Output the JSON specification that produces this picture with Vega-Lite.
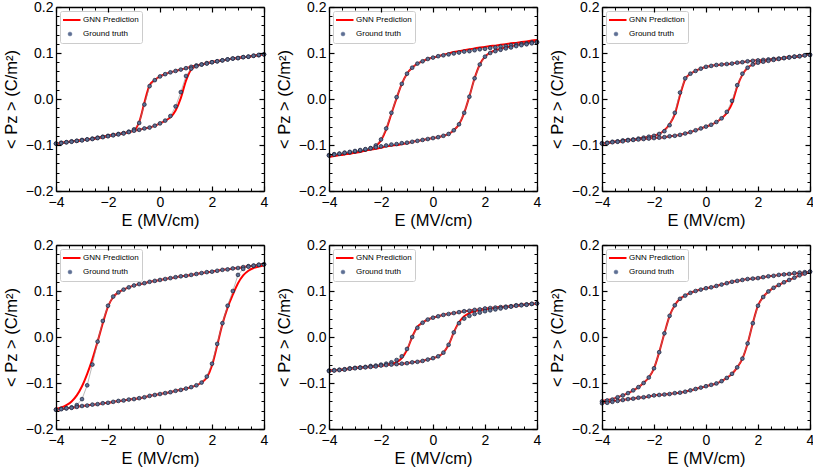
{
"$schema": "https://vega.github.io/schema/vega-lite/v6.json",
"padding": {"left": 3, "top": 0, "right": 2, "bottom": 0},
"background": "white",
"columns": 3,
"spacing": {"row": 54, "column": 65},
"bounds": "flush",
"datasets": {"d": [
{"p":1,"e":-4,"u":-0.097,"l":-0.097,"U":-0.098,"L":-0.098},
{"p":1,"e":-3.8,"u":-0.095,"l":-0.096,"U":-0.095,"L":-0.096},
{"p":1,"e":-3.6,"u":-0.094,"l":-0.094,"U":-0.094,"L":-0.094},
{"p":1,"e":-3.4,"u":-0.092,"l":-0.093,"U":-0.092,"L":-0.093},
{"p":1,"e":-3.2,"u":-0.091,"l":-0.091,"U":-0.091,"L":-0.091},
{"p":1,"e":-3,"u":-0.089,"l":-0.09,"U":-0.089,"L":-0.09},
{"p":1,"e":-2.8,"u":-0.088,"l":-0.088,"U":-0.088,"L":-0.088},
{"p":1,"e":-2.6,"u":-0.086,"l":-0.087,"U":-0.086,"L":-0.087},
{"p":1,"e":-2.4,"u":-0.084,"l":-0.085,"U":-0.084,"L":-0.085},
{"p":1,"e":-2.2,"u":-0.082,"l":-0.083,"U":-0.082,"L":-0.083},
{"p":1,"e":-2,"u":-0.08,"l":-0.081,"U":-0.08,"L":-0.081},
{"p":1,"e":-1.8,"u":-0.078,"l":-0.079,"U":-0.078,"L":-0.079},
{"p":1,"e":-1.6,"u":-0.076,"l":-0.077,"U":-0.076,"L":-0.077},
{"p":1,"e":-1.4,"u":-0.074,"l":-0.075,"U":-0.074,"L":-0.075},
{"p":1,"e":-1.2,"u":-0.071,"l":-0.072,"U":-0.072,"L":-0.072},
{"p":1,"e":-1,"u":-0.066,"l":-0.069,"U":-0.068,"L":-0.069},
{"p":1,"e":-0.8,"u":-0.052,"l":-0.067,"U":-0.05,"L":-0.067},
{"p":1,"e":-0.6,"u":-0.012,"l":-0.064,"U":-0.008,"L":-0.064},
{"p":1,"e":-0.4,"u":0.028,"l":-0.062,"U":0.03,"L":-0.062},
{"p":1,"e":-0.2,"u":0.041,"l":-0.058,"U":0.041,"L":-0.058},
{"p":1,"e":0,"u":0.049,"l":-0.053,"U":0.049,"L":-0.053},
{"p":1,"e":0.2,"u":0.054,"l":-0.047,"U":0.054,"L":-0.047},
{"p":1,"e":0.4,"u":0.058,"l":-0.037,"U":0.058,"L":-0.04},
{"p":1,"e":0.6,"u":0.061,"l":-0.016,"U":0.061,"L":-0.025},
{"p":1,"e":0.8,"u":0.064,"l":0.015,"U":0.064,"L":0.002},
{"p":1,"e":1,"u":0.067,"l":0.05,"U":0.067,"L":0.04},
{"p":1,"e":1.2,"u":0.07,"l":0.066,"U":0.07,"L":0.064},
{"p":1,"e":1.4,"u":0.073,"l":0.071,"U":0.073,"L":0.071},
{"p":1,"e":1.6,"u":0.075,"l":0.075,"U":0.075,"L":0.075},
{"p":1,"e":1.8,"u":0.078,"l":0.077,"U":0.078,"L":0.077},
{"p":1,"e":2,"u":0.08,"l":0.08,"U":0.08,"L":0.08},
{"p":1,"e":2.2,"u":0.082,"l":0.082,"U":0.082,"L":0.082},
{"p":1,"e":2.4,"u":0.084,"l":0.084,"U":0.084,"L":0.084},
{"p":1,"e":2.6,"u":0.086,"l":0.086,"U":0.086,"L":0.086},
{"p":1,"e":2.8,"u":0.088,"l":0.088,"U":0.088,"L":0.088},
{"p":1,"e":3,"u":0.089,"l":0.089,"U":0.089,"L":0.089},
{"p":1,"e":3.2,"u":0.091,"l":0.091,"U":0.091,"L":0.091},
{"p":1,"e":3.4,"u":0.092,"l":0.092,"U":0.092,"L":0.092},
{"p":1,"e":3.6,"u":0.094,"l":0.094,"U":0.094,"L":0.094},
{"p":1,"e":3.8,"u":0.095,"l":0.096,"U":0.095,"L":0.096},
{"p":1,"e":4,"u":0.097,"l":0.097,"U":0.097,"L":0.097},

{"p":2,"e":-4,"u":-0.122,"l":-0.123,"U":-0.125,"L":-0.126},
{"p":2,"e":-3.8,"u":-0.12,"l":-0.121,"U":-0.123,"L":-0.124},
{"p":2,"e":-3.6,"u":-0.119,"l":-0.119,"U":-0.122,"L":-0.122},
{"p":2,"e":-3.4,"u":-0.117,"l":-0.117,"U":-0.12,"L":-0.12},
{"p":2,"e":-3.2,"u":-0.116,"l":-0.115,"U":-0.119,"L":-0.118},
{"p":2,"e":-3,"u":-0.114,"l":-0.113,"U":-0.117,"L":-0.116},
{"p":2,"e":-2.8,"u":-0.112,"l":-0.111,"U":-0.115,"L":-0.114},
{"p":2,"e":-2.6,"u":-0.11,"l":-0.109,"U":-0.112,"L":-0.112},
{"p":2,"e":-2.4,"u":-0.107,"l":-0.107,"U":-0.109,"L":-0.11},
{"p":2,"e":-2.2,"u":-0.101,"l":-0.105,"U":-0.102,"L":-0.108},
{"p":2,"e":-2,"u":-0.088,"l":-0.103,"U":-0.09,"L":-0.106},
{"p":2,"e":-1.8,"u":-0.064,"l":-0.101,"U":-0.066,"L":-0.103},
{"p":2,"e":-1.6,"u":-0.03,"l":-0.099,"U":-0.032,"L":-0.101},
{"p":2,"e":-1.4,"u":0.004,"l":-0.098,"U":0.002,"L":-0.1},
{"p":2,"e":-1.2,"u":0.033,"l":-0.096,"U":0.033,"L":-0.098},
{"p":2,"e":-1,"u":0.055,"l":-0.095,"U":0.055,"L":-0.096},
{"p":2,"e":-0.8,"u":0.068,"l":-0.093,"U":0.068,"L":-0.093},
{"p":2,"e":-0.6,"u":0.077,"l":-0.091,"U":0.077,"L":-0.091},
{"p":2,"e":-0.4,"u":0.082,"l":-0.089,"U":0.082,"L":-0.089},
{"p":2,"e":-0.2,"u":0.087,"l":-0.087,"U":0.087,"L":-0.087},
{"p":2,"e":0,"u":0.09,"l":-0.085,"U":0.09,"L":-0.085},
{"p":2,"e":0.2,"u":0.093,"l":-0.083,"U":0.093,"L":-0.083},
{"p":2,"e":0.4,"u":0.095,"l":-0.08,"U":0.096,"L":-0.08},
{"p":2,"e":0.6,"u":0.097,"l":-0.076,"U":0.099,"L":-0.076},
{"p":2,"e":0.8,"u":0.099,"l":-0.068,"U":0.102,"L":-0.068},
{"p":2,"e":1,"u":0.101,"l":-0.055,"U":0.104,"L":-0.055},
{"p":2,"e":1.2,"u":0.103,"l":-0.03,"U":0.106,"L":-0.03},
{"p":2,"e":1.4,"u":0.104,"l":0.005,"U":0.108,"L":0.006},
{"p":2,"e":1.6,"u":0.106,"l":0.045,"U":0.11,"L":0.045},
{"p":2,"e":1.8,"u":0.108,"l":0.075,"U":0.112,"L":0.075},
{"p":2,"e":2,"u":0.109,"l":0.092,"U":0.113,"L":0.092},
{"p":2,"e":2.2,"u":0.111,"l":0.1,"U":0.115,"L":0.101},
{"p":2,"e":2.4,"u":0.112,"l":0.104,"U":0.116,"L":0.106},
{"p":2,"e":2.6,"u":0.114,"l":0.107,"U":0.118,"L":0.109},
{"p":2,"e":2.8,"u":0.115,"l":0.11,"U":0.119,"L":0.112},
{"p":2,"e":3,"u":0.117,"l":0.112,"U":0.121,"L":0.114},
{"p":2,"e":3.2,"u":0.118,"l":0.115,"U":0.122,"L":0.117},
{"p":2,"e":3.4,"u":0.12,"l":0.117,"U":0.124,"L":0.119},
{"p":2,"e":3.6,"u":0.121,"l":0.119,"U":0.125,"L":0.121},
{"p":2,"e":3.8,"u":0.123,"l":0.121,"U":0.127,"L":0.123},
{"p":2,"e":4,"u":0.124,"l":0.123,"U":0.128,"L":0.125},

{"p":3,"e":-4,"u":-0.096,"l":-0.097,"U":-0.096,"L":-0.097},
{"p":3,"e":-3.8,"u":-0.095,"l":-0.096,"U":-0.095,"L":-0.096},
{"p":3,"e":-3.6,"u":-0.093,"l":-0.094,"U":-0.093,"L":-0.094},
{"p":3,"e":-3.4,"u":-0.092,"l":-0.093,"U":-0.092,"L":-0.093},
{"p":3,"e":-3.2,"u":-0.09,"l":-0.092,"U":-0.09,"L":-0.092},
{"p":3,"e":-3,"u":-0.089,"l":-0.09,"U":-0.089,"L":-0.09},
{"p":3,"e":-2.8,"u":-0.088,"l":-0.089,"U":-0.088,"L":-0.089},
{"p":3,"e":-2.6,"u":-0.086,"l":-0.088,"U":-0.086,"L":-0.088},
{"p":3,"e":-2.4,"u":-0.084,"l":-0.087,"U":-0.084,"L":-0.087},
{"p":3,"e":-2.2,"u":-0.082,"l":-0.086,"U":-0.082,"L":-0.086},
{"p":3,"e":-2,"u":-0.08,"l":-0.085,"U":-0.08,"L":-0.085},
{"p":3,"e":-1.8,"u":-0.076,"l":-0.084,"U":-0.076,"L":-0.084},
{"p":3,"e":-1.6,"u":-0.07,"l":-0.083,"U":-0.068,"L":-0.083},
{"p":3,"e":-1.4,"u":-0.057,"l":-0.081,"U":-0.055,"L":-0.081},
{"p":3,"e":-1.2,"u":-0.03,"l":-0.08,"U":-0.033,"L":-0.08},
{"p":3,"e":-1,"u":0.014,"l":-0.078,"U":0.008,"L":-0.078},
{"p":3,"e":-0.8,"u":0.045,"l":-0.075,"U":0.043,"L":-0.075},
{"p":3,"e":-0.6,"u":0.055,"l":-0.072,"U":0.055,"L":-0.072},
{"p":3,"e":-0.4,"u":0.061,"l":-0.068,"U":0.061,"L":-0.068},
{"p":3,"e":-0.2,"u":0.066,"l":-0.064,"U":0.066,"L":-0.064},
{"p":3,"e":0,"u":0.07,"l":-0.06,"U":0.07,"L":-0.06},
{"p":3,"e":0.2,"u":0.072,"l":-0.056,"U":0.072,"L":-0.056},
{"p":3,"e":0.4,"u":0.074,"l":-0.05,"U":0.074,"L":-0.05},
{"p":3,"e":0.6,"u":0.075,"l":-0.042,"U":0.075,"L":-0.042},
{"p":3,"e":0.8,"u":0.076,"l":-0.028,"U":0.076,"L":-0.03},
{"p":3,"e":1,"u":0.077,"l":-0.004,"U":0.077,"L":-0.01},
{"p":3,"e":1.2,"u":0.079,"l":0.03,"U":0.079,"L":0.027},
{"p":3,"e":1.4,"u":0.08,"l":0.055,"U":0.08,"L":0.053},
{"p":3,"e":1.6,"u":0.082,"l":0.068,"U":0.082,"L":0.068},
{"p":3,"e":1.8,"u":0.083,"l":0.075,"U":0.083,"L":0.075},
{"p":3,"e":2,"u":0.084,"l":0.079,"U":0.084,"L":0.079},
{"p":3,"e":2.2,"u":0.085,"l":0.081,"U":0.085,"L":0.081},
{"p":3,"e":2.4,"u":0.086,"l":0.083,"U":0.086,"L":0.083},
{"p":3,"e":2.6,"u":0.087,"l":0.085,"U":0.087,"L":0.085},
{"p":3,"e":2.8,"u":0.088,"l":0.087,"U":0.088,"L":0.087},
{"p":3,"e":3,"u":0.089,"l":0.089,"U":0.089,"L":0.089},
{"p":3,"e":3.2,"u":0.091,"l":0.09,"U":0.091,"L":0.09},
{"p":3,"e":3.4,"u":0.092,"l":0.092,"U":0.092,"L":0.092},
{"p":3,"e":3.6,"u":0.093,"l":0.093,"U":0.093,"L":0.093},
{"p":3,"e":3.8,"u":0.095,"l":0.095,"U":0.095,"L":0.095},
{"p":3,"e":4,"u":0.096,"l":0.096,"U":0.096,"L":0.096},

{"p":4,"e":-4,"u":-0.158,"l":-0.158,"U":-0.156,"L":-0.158},
{"p":4,"e":-3.8,"u":-0.156,"l":-0.157,"U":-0.153,"L":-0.157},
{"p":4,"e":-3.6,"u":-0.155,"l":-0.155,"U":-0.148,"L":-0.155},
{"p":4,"e":-3.4,"u":-0.153,"l":-0.154,"U":-0.14,"L":-0.154},
{"p":4,"e":-3.2,"u":-0.148,"l":-0.152,"U":-0.127,"L":-0.152},
{"p":4,"e":-3,"u":-0.135,"l":-0.15,"U":-0.107,"L":-0.15},
{"p":4,"e":-2.8,"u":-0.105,"l":-0.149,"U":-0.08,"L":-0.149},
{"p":4,"e":-2.6,"u":-0.06,"l":-0.147,"U":-0.048,"L":-0.147},
{"p":4,"e":-2.4,"u":-0.01,"l":-0.146,"U":-0.01,"L":-0.146},
{"p":4,"e":-2.2,"u":0.035,"l":-0.144,"U":0.03,"L":-0.144},
{"p":4,"e":-2,"u":0.068,"l":-0.143,"U":0.066,"L":-0.143},
{"p":4,"e":-1.8,"u":0.088,"l":-0.141,"U":0.087,"L":-0.141},
{"p":4,"e":-1.6,"u":0.097,"l":-0.139,"U":0.097,"L":-0.139},
{"p":4,"e":-1.4,"u":0.103,"l":-0.138,"U":0.103,"L":-0.138},
{"p":4,"e":-1.2,"u":0.108,"l":-0.136,"U":0.108,"L":-0.136},
{"p":4,"e":-1,"u":0.112,"l":-0.135,"U":0.112,"L":-0.135},
{"p":4,"e":-0.8,"u":0.115,"l":-0.133,"U":0.115,"L":-0.133},
{"p":4,"e":-0.6,"u":0.117,"l":-0.131,"U":0.117,"L":-0.131},
{"p":4,"e":-0.4,"u":0.12,"l":-0.128,"U":0.12,"L":-0.128},
{"p":4,"e":-0.2,"u":0.122,"l":-0.126,"U":0.122,"L":-0.126},
{"p":4,"e":0,"u":0.124,"l":-0.124,"U":0.124,"L":-0.124},
{"p":4,"e":0.2,"u":0.126,"l":-0.122,"U":0.126,"L":-0.122},
{"p":4,"e":0.4,"u":0.128,"l":-0.12,"U":0.128,"L":-0.12},
{"p":4,"e":0.6,"u":0.13,"l":-0.117,"U":0.13,"L":-0.117},
{"p":4,"e":0.8,"u":0.132,"l":-0.115,"U":0.132,"L":-0.115},
{"p":4,"e":1,"u":0.133,"l":-0.112,"U":0.133,"L":-0.112},
{"p":4,"e":1.2,"u":0.135,"l":-0.109,"U":0.135,"L":-0.109},
{"p":4,"e":1.4,"u":0.137,"l":-0.105,"U":0.137,"L":-0.105},
{"p":4,"e":1.6,"u":0.139,"l":-0.099,"U":0.139,"L":-0.099},
{"p":4,"e":1.8,"u":0.141,"l":-0.086,"U":0.141,"L":-0.088},
{"p":4,"e":2,"u":0.142,"l":-0.058,"U":0.142,"L":-0.062},
{"p":4,"e":2.2,"u":0.144,"l":-0.015,"U":0.144,"L":-0.018},
{"p":4,"e":2.4,"u":0.146,"l":0.03,"U":0.146,"L":0.028},
{"p":4,"e":2.6,"u":0.147,"l":0.068,"U":0.147,"L":0.064},
{"p":4,"e":2.8,"u":0.149,"l":0.1,"U":0.149,"L":0.092},
{"p":4,"e":3,"u":0.15,"l":0.135,"U":0.15,"L":0.117},
{"p":4,"e":3.2,"u":0.152,"l":0.148,"U":0.152,"L":0.134},
{"p":4,"e":3.4,"u":0.154,"l":0.153,"U":0.154,"L":0.144},
{"p":4,"e":3.6,"u":0.155,"l":0.155,"U":0.155,"L":0.15},
{"p":4,"e":3.8,"u":0.157,"l":0.157,"U":0.157,"L":0.153},
{"p":4,"e":4,"u":0.158,"l":0.158,"U":0.158,"L":0.156},

{"p":5,"e":-4,"u":-0.073,"l":-0.074,"U":-0.073,"L":-0.074},
{"p":5,"e":-3.8,"u":-0.072,"l":-0.073,"U":-0.072,"L":-0.073},
{"p":5,"e":-3.6,"u":-0.071,"l":-0.072,"U":-0.071,"L":-0.072},
{"p":5,"e":-3.4,"u":-0.07,"l":-0.071,"U":-0.07,"L":-0.071},
{"p":5,"e":-3.2,"u":-0.068,"l":-0.069,"U":-0.068,"L":-0.069},
{"p":5,"e":-3,"u":-0.067,"l":-0.068,"U":-0.067,"L":-0.068},
{"p":5,"e":-2.8,"u":-0.066,"l":-0.067,"U":-0.066,"L":-0.067},
{"p":5,"e":-2.6,"u":-0.065,"l":-0.066,"U":-0.065,"L":-0.066},
{"p":5,"e":-2.4,"u":-0.063,"l":-0.065,"U":-0.064,"L":-0.065},
{"p":5,"e":-2.2,"u":-0.062,"l":-0.064,"U":-0.063,"L":-0.064},
{"p":5,"e":-2,"u":-0.06,"l":-0.062,"U":-0.062,"L":-0.062},
{"p":5,"e":-1.8,"u":-0.058,"l":-0.061,"U":-0.06,"L":-0.061},
{"p":5,"e":-1.6,"u":-0.055,"l":-0.06,"U":-0.058,"L":-0.06},
{"p":5,"e":-1.4,"u":-0.05,"l":-0.059,"U":-0.055,"L":-0.059},
{"p":5,"e":-1.2,"u":-0.042,"l":-0.058,"U":-0.046,"L":-0.058},
{"p":5,"e":-1,"u":-0.026,"l":-0.057,"U":-0.028,"L":-0.057},
{"p":5,"e":-0.8,"u":0.0,"l":-0.055,"U":0.0,"L":-0.055},
{"p":5,"e":-0.6,"u":0.02,"l":-0.054,"U":0.022,"L":-0.054},
{"p":5,"e":-0.4,"u":0.031,"l":-0.052,"U":0.031,"L":-0.052},
{"p":5,"e":-0.2,"u":0.038,"l":-0.049,"U":0.038,"L":-0.049},
{"p":5,"e":0,"u":0.042,"l":-0.046,"U":0.042,"L":-0.046},
{"p":5,"e":0.2,"u":0.045,"l":-0.042,"U":0.045,"L":-0.042},
{"p":5,"e":0.4,"u":0.048,"l":-0.034,"U":0.048,"L":-0.034},
{"p":5,"e":0.6,"u":0.05,"l":-0.017,"U":0.05,"L":-0.017},
{"p":5,"e":0.8,"u":0.052,"l":0.01,"U":0.052,"L":0.01},
{"p":5,"e":1,"u":0.054,"l":0.03,"U":0.054,"L":0.032},
{"p":5,"e":1.2,"u":0.056,"l":0.04,"U":0.056,"L":0.045},
{"p":5,"e":1.4,"u":0.057,"l":0.046,"U":0.057,"L":0.052},
{"p":5,"e":1.6,"u":0.059,"l":0.05,"U":0.059,"L":0.056},
{"p":5,"e":1.8,"u":0.06,"l":0.053,"U":0.06,"L":0.058},
{"p":5,"e":2,"u":0.062,"l":0.056,"U":0.062,"L":0.06},
{"p":5,"e":2.2,"u":0.063,"l":0.058,"U":0.063,"L":0.062},
{"p":5,"e":2.4,"u":0.064,"l":0.06,"U":0.064,"L":0.063},
{"p":5,"e":2.6,"u":0.065,"l":0.062,"U":0.065,"L":0.064},
{"p":5,"e":2.8,"u":0.066,"l":0.064,"U":0.066,"L":0.065},
{"p":5,"e":3,"u":0.067,"l":0.066,"U":0.067,"L":0.066},
{"p":5,"e":3.2,"u":0.069,"l":0.068,"U":0.069,"L":0.068},
{"p":5,"e":3.4,"u":0.07,"l":0.069,"U":0.07,"L":0.069},
{"p":5,"e":3.6,"u":0.071,"l":0.07,"U":0.071,"L":0.07},
{"p":5,"e":3.8,"u":0.072,"l":0.072,"U":0.072,"L":0.072},
{"p":5,"e":4,"u":0.073,"l":0.073,"U":0.073,"L":0.073},

{"p":6,"e":-4,"u":-0.14,"l":-0.144,"U":-0.139,"L":-0.143},
{"p":6,"e":-3.8,"u":-0.138,"l":-0.143,"U":-0.137,"L":-0.142},
{"p":6,"e":-3.6,"u":-0.136,"l":-0.141,"U":-0.135,"L":-0.14},
{"p":6,"e":-3.4,"u":-0.131,"l":-0.139,"U":-0.131,"L":-0.138},
{"p":6,"e":-3.2,"u":-0.127,"l":-0.137,"U":-0.127,"L":-0.137},
{"p":6,"e":-3,"u":-0.122,"l":-0.135,"U":-0.122,"L":-0.135},
{"p":6,"e":-2.8,"u":-0.116,"l":-0.134,"U":-0.116,"L":-0.134},
{"p":6,"e":-2.6,"u":-0.109,"l":-0.132,"U":-0.109,"L":-0.132},
{"p":6,"e":-2.4,"u":-0.1,"l":-0.131,"U":-0.1,"L":-0.131},
{"p":6,"e":-2.2,"u":-0.088,"l":-0.129,"U":-0.088,"L":-0.129},
{"p":6,"e":-2,"u":-0.068,"l":-0.127,"U":-0.068,"L":-0.127},
{"p":6,"e":-1.8,"u":-0.033,"l":-0.126,"U":-0.033,"L":-0.126},
{"p":6,"e":-1.6,"u":0.008,"l":-0.125,"U":0.008,"L":-0.125},
{"p":6,"e":-1.4,"u":0.046,"l":-0.124,"U":0.046,"L":-0.124},
{"p":6,"e":-1.2,"u":0.069,"l":-0.122,"U":0.069,"L":-0.122},
{"p":6,"e":-1,"u":0.083,"l":-0.121,"U":0.083,"L":-0.121},
{"p":6,"e":-0.8,"u":0.09,"l":-0.119,"U":0.09,"L":-0.119},
{"p":6,"e":-0.6,"u":0.096,"l":-0.116,"U":0.096,"L":-0.116},
{"p":6,"e":-0.4,"u":0.1,"l":-0.113,"U":0.1,"L":-0.113},
{"p":6,"e":-0.2,"u":0.103,"l":-0.11,"U":0.103,"L":-0.11},
{"p":6,"e":0,"u":0.106,"l":-0.107,"U":0.106,"L":-0.107},
{"p":6,"e":0.2,"u":0.108,"l":-0.104,"U":0.108,"L":-0.104},
{"p":6,"e":0.4,"u":0.111,"l":-0.101,"U":0.111,"L":-0.101},
{"p":6,"e":0.6,"u":0.114,"l":-0.096,"U":0.114,"L":-0.096},
{"p":6,"e":0.8,"u":0.117,"l":-0.089,"U":0.117,"L":-0.089},
{"p":6,"e":1,"u":0.12,"l":-0.08,"U":0.12,"L":-0.08},
{"p":6,"e":1.2,"u":0.122,"l":-0.066,"U":0.122,"L":-0.066},
{"p":6,"e":1.4,"u":0.124,"l":-0.047,"U":0.124,"L":-0.047},
{"p":6,"e":1.6,"u":0.126,"l":-0.014,"U":0.126,"L":-0.014},
{"p":6,"e":1.8,"u":0.127,"l":0.03,"U":0.127,"L":0.03},
{"p":6,"e":2,"u":0.128,"l":0.068,"U":0.128,"L":0.068},
{"p":6,"e":2.2,"u":0.13,"l":0.087,"U":0.13,"L":0.087},
{"p":6,"e":2.4,"u":0.132,"l":0.099,"U":0.132,"L":0.099},
{"p":6,"e":2.6,"u":0.133,"l":0.107,"U":0.133,"L":0.107},
{"p":6,"e":2.8,"u":0.135,"l":0.113,"U":0.135,"L":0.113},
{"p":6,"e":3,"u":0.136,"l":0.119,"U":0.136,"L":0.119},
{"p":6,"e":3.2,"u":0.137,"l":0.124,"U":0.137,"L":0.124},
{"p":6,"e":3.4,"u":0.139,"l":0.129,"U":0.138,"L":0.129},
{"p":6,"e":3.6,"u":0.14,"l":0.134,"U":0.139,"L":0.134},
{"p":6,"e":3.8,"u":0.141,"l":0.138,"U":0.14,"L":0.137},
{"p":6,"e":4,"u":0.142,"l":0.142,"U":0.141,"L":0.141}
]},
"concat": [
{"width":208,"height":184,"data":{"name":"d"},"transform":[{"filter":"datum.p==1"}],
"layer":[
{"transform":[{"fold":["U","L"],"as":["br","P"]}],"mark":{"type":"line","strokeWidth":2,"interpolate":"monotone"},
"encoding":{"x":{"field":"e","type":"quantitative","scale":{"domain":[-4,4],"nice":false,"zero":false},"axis":{"orient":"bottom","values":[-4,-2,0,2,4],"format":"d","tickSize":-5,"tickWidth":1.2,"labelPadding":9,"title":"E (MV/cm)","titlePadding":3,"domainWidth":1.3,"zindex":1}},
"y":{"field":"P","type":"quantitative","scale":{"domain":[-0.2,0.2],"nice":false,"zero":false},"axis":{"orient":"left","values":[-0.2,-0.1,0,0.1,0.2],"format":".1f","tickSize":-5,"tickWidth":1.2,"labelPadding":8,"title":"< Pz > (C/m²)","titlePadding":6,"domainWidth":1.3,"zindex":1}},
"detail":{"field":"br"},
"color":{"datum":"GNN Prediction","scale":{"domain":["GNN Prediction","Ground truth"],"range":["#ff0000","#5d6f94"]},"legend":{"orient":"top-left","offset":4,"title":null,"padding":3,"fillColor":"#ffffff","strokeColor":"#cccccc","cornerRadius":2,"labelFont":"Liberation Sans","labelFontSize":8,"labelColor":"black","symbolType":"stroke","symbolSize":441,"symbolStrokeWidth":2,"symbolOffset":3,"clipHeight":12,"rowPadding":2,"labelOffset":9,"encode":{"symbols":{"update":{"shape":{"signal":"datum.value === 'Ground truth' ? 'circle' : 'stroke'"},"size":{"signal":"datum.value === 'Ground truth' ? 14 : 441"},"fill":{"signal":"datum.value === 'Ground truth' ? '#5d6f94' : 'transparent'"},"stroke":{"signal":"datum.value === 'Ground truth' ? '#1b2036' : '#ff0000'"},"strokeWidth":{"signal":"datum.value === 'Ground truth' ? 0.7 : 2"}}}}}}}},
{"transform":[{"fold":["u","l"],"as":["br","P"]}],"mark":{"type":"line","strokeWidth":0.6,"color":"#8a8a8a"},
"encoding":{"x":{"field":"e","type":"quantitative","axis":{"orient":"top","values":[-4,-2,0,2,4],"tickSize":-5,"tickWidth":1.2,"labels":false,"title":null,"domainWidth":1.3,"zindex":1}},
"y":{"field":"P","type":"quantitative","axis":{"orient":"right","values":[-0.2,-0.1,0,0.1,0.2],"tickSize":-5,"tickWidth":1.2,"labels":false,"title":null,"domainWidth":1.3,"zindex":1}},"detail":{"field":"br"}}},
{"transform":[{"fold":["u","l"],"as":["br","P"]}],"mark":{"type":"point","filled":true,"fill":"#5d6f94","stroke":"#1b2036","strokeWidth":0.7,"size":14,"opacity":1},
"encoding":{"x":{"field":"e","type":"quantitative","axis":{"orient":"bottom","values":[-3.5,-3,-2.5,-1.5,-1,-0.5,0.5,1,1.5,2.5,3,3.5],"tickSize":-3,"tickWidth":1,"labels":false,"domain":false,"title":null,"zindex":1}},
"y":{"field":"P","type":"quantitative","axis":{"orient":"left","values":[-0.18,-0.16,-0.14,-0.12,-0.08,-0.06,-0.04,-0.02,0.02,0.04,0.06,0.08,0.12,0.14,0.16,0.18],"tickSize":-3,"tickWidth":1,"labels":false,"domain":false,"title":null,"zindex":1}}}},
{"mark":{"type":"point","opacity":0},
"encoding":{"x":{"datum":0,"type":"quantitative","axis":{"orient":"top","values":[-3.5,-3,-2.5,-1.5,-1,-0.5,0.5,1,1.5,2.5,3,3.5],"tickSize":-3,"tickWidth":1,"labels":false,"domain":false,"title":null,"zindex":1}},
"y":{"datum":0,"type":"quantitative","axis":{"orient":"right","values":[-0.18,-0.16,-0.14,-0.12,-0.08,-0.06,-0.04,-0.02,0.02,0.04,0.06,0.08,0.12,0.14,0.16,0.18],"tickSize":-3,"tickWidth":1,"labels":false,"domain":false,"title":null,"zindex":1}}}}
],
"resolve":{"axis":{"x":"independent","y":"independent"}}},

{"width":208,"height":184,"data":{"name":"d"},"transform":[{"filter":"datum.p==2"}],
"layer":[
{"transform":[{"fold":["U","L"],"as":["br","P"]}],"mark":{"type":"line","strokeWidth":2,"interpolate":"monotone"},
"encoding":{"x":{"field":"e","type":"quantitative","scale":{"domain":[-4,4],"nice":false,"zero":false},"axis":{"orient":"bottom","values":[-4,-2,0,2,4],"format":"d","tickSize":-5,"tickWidth":1.2,"labelPadding":9,"title":"E (MV/cm)","titlePadding":3,"domainWidth":1.3,"zindex":1}},
"y":{"field":"P","type":"quantitative","scale":{"domain":[-0.2,0.2],"nice":false,"zero":false},"axis":{"orient":"left","values":[-0.2,-0.1,0,0.1,0.2],"format":".1f","tickSize":-5,"tickWidth":1.2,"labelPadding":8,"title":"< Pz > (C/m²)","titlePadding":6,"domainWidth":1.3,"zindex":1}},
"detail":{"field":"br"},
"color":{"datum":"GNN Prediction","scale":{"domain":["GNN Prediction","Ground truth"],"range":["#ff0000","#5d6f94"]},"legend":{"orient":"top-left","offset":4,"title":null,"padding":3,"fillColor":"#ffffff","strokeColor":"#cccccc","cornerRadius":2,"labelFont":"Liberation Sans","labelFontSize":8,"labelColor":"black","symbolType":"stroke","symbolSize":441,"symbolStrokeWidth":2,"symbolOffset":3,"clipHeight":12,"rowPadding":2,"labelOffset":9,"encode":{"symbols":{"update":{"shape":{"signal":"datum.value === 'Ground truth' ? 'circle' : 'stroke'"},"size":{"signal":"datum.value === 'Ground truth' ? 14 : 441"},"fill":{"signal":"datum.value === 'Ground truth' ? '#5d6f94' : 'transparent'"},"stroke":{"signal":"datum.value === 'Ground truth' ? '#1b2036' : '#ff0000'"},"strokeWidth":{"signal":"datum.value === 'Ground truth' ? 0.7 : 2"}}}}}}}},
{"transform":[{"fold":["u","l"],"as":["br","P"]}],"mark":{"type":"line","strokeWidth":0.6,"color":"#8a8a8a"},
"encoding":{"x":{"field":"e","type":"quantitative","axis":{"orient":"top","values":[-4,-2,0,2,4],"tickSize":-5,"tickWidth":1.2,"labels":false,"title":null,"domainWidth":1.3,"zindex":1}},
"y":{"field":"P","type":"quantitative","axis":{"orient":"right","values":[-0.2,-0.1,0,0.1,0.2],"tickSize":-5,"tickWidth":1.2,"labels":false,"title":null,"domainWidth":1.3,"zindex":1}},"detail":{"field":"br"}}},
{"transform":[{"fold":["u","l"],"as":["br","P"]}],"mark":{"type":"point","filled":true,"fill":"#5d6f94","stroke":"#1b2036","strokeWidth":0.7,"size":14,"opacity":1},
"encoding":{"x":{"field":"e","type":"quantitative","axis":{"orient":"bottom","values":[-3.5,-3,-2.5,-1.5,-1,-0.5,0.5,1,1.5,2.5,3,3.5],"tickSize":-3,"tickWidth":1,"labels":false,"domain":false,"title":null,"zindex":1}},
"y":{"field":"P","type":"quantitative","axis":{"orient":"left","values":[-0.18,-0.16,-0.14,-0.12,-0.08,-0.06,-0.04,-0.02,0.02,0.04,0.06,0.08,0.12,0.14,0.16,0.18],"tickSize":-3,"tickWidth":1,"labels":false,"domain":false,"title":null,"zindex":1}}}},
{"mark":{"type":"point","opacity":0},
"encoding":{"x":{"datum":0,"type":"quantitative","axis":{"orient":"top","values":[-3.5,-3,-2.5,-1.5,-1,-0.5,0.5,1,1.5,2.5,3,3.5],"tickSize":-3,"tickWidth":1,"labels":false,"domain":false,"title":null,"zindex":1}},
"y":{"datum":0,"type":"quantitative","axis":{"orient":"right","values":[-0.18,-0.16,-0.14,-0.12,-0.08,-0.06,-0.04,-0.02,0.02,0.04,0.06,0.08,0.12,0.14,0.16,0.18],"tickSize":-3,"tickWidth":1,"labels":false,"domain":false,"title":null,"zindex":1}}}}
],
"resolve":{"axis":{"x":"independent","y":"independent"}}},

{"width":208,"height":184,"data":{"name":"d"},"transform":[{"filter":"datum.p==3"}],
"layer":[
{"transform":[{"fold":["U","L"],"as":["br","P"]}],"mark":{"type":"line","strokeWidth":2,"interpolate":"monotone"},
"encoding":{"x":{"field":"e","type":"quantitative","scale":{"domain":[-4,4],"nice":false,"zero":false},"axis":{"orient":"bottom","values":[-4,-2,0,2,4],"format":"d","tickSize":-5,"tickWidth":1.2,"labelPadding":9,"title":"E (MV/cm)","titlePadding":3,"domainWidth":1.3,"zindex":1}},
"y":{"field":"P","type":"quantitative","scale":{"domain":[-0.2,0.2],"nice":false,"zero":false},"axis":{"orient":"left","values":[-0.2,-0.1,0,0.1,0.2],"format":".1f","tickSize":-5,"tickWidth":1.2,"labelPadding":8,"title":"< Pz > (C/m²)","titlePadding":6,"domainWidth":1.3,"zindex":1}},
"detail":{"field":"br"},
"color":{"datum":"GNN Prediction","scale":{"domain":["GNN Prediction","Ground truth"],"range":["#ff0000","#5d6f94"]},"legend":{"orient":"top-left","offset":4,"title":null,"padding":3,"fillColor":"#ffffff","strokeColor":"#cccccc","cornerRadius":2,"labelFont":"Liberation Sans","labelFontSize":8,"labelColor":"black","symbolType":"stroke","symbolSize":441,"symbolStrokeWidth":2,"symbolOffset":3,"clipHeight":12,"rowPadding":2,"labelOffset":9,"encode":{"symbols":{"update":{"shape":{"signal":"datum.value === 'Ground truth' ? 'circle' : 'stroke'"},"size":{"signal":"datum.value === 'Ground truth' ? 14 : 441"},"fill":{"signal":"datum.value === 'Ground truth' ? '#5d6f94' : 'transparent'"},"stroke":{"signal":"datum.value === 'Ground truth' ? '#1b2036' : '#ff0000'"},"strokeWidth":{"signal":"datum.value === 'Ground truth' ? 0.7 : 2"}}}}}}}},
{"transform":[{"fold":["u","l"],"as":["br","P"]}],"mark":{"type":"line","strokeWidth":0.6,"color":"#8a8a8a"},
"encoding":{"x":{"field":"e","type":"quantitative","axis":{"orient":"top","values":[-4,-2,0,2,4],"tickSize":-5,"tickWidth":1.2,"labels":false,"title":null,"domainWidth":1.3,"zindex":1}},
"y":{"field":"P","type":"quantitative","axis":{"orient":"right","values":[-0.2,-0.1,0,0.1,0.2],"tickSize":-5,"tickWidth":1.2,"labels":false,"title":null,"domainWidth":1.3,"zindex":1}},"detail":{"field":"br"}}},
{"transform":[{"fold":["u","l"],"as":["br","P"]}],"mark":{"type":"point","filled":true,"fill":"#5d6f94","stroke":"#1b2036","strokeWidth":0.7,"size":14,"opacity":1},
"encoding":{"x":{"field":"e","type":"quantitative","axis":{"orient":"bottom","values":[-3.5,-3,-2.5,-1.5,-1,-0.5,0.5,1,1.5,2.5,3,3.5],"tickSize":-3,"tickWidth":1,"labels":false,"domain":false,"title":null,"zindex":1}},
"y":{"field":"P","type":"quantitative","axis":{"orient":"left","values":[-0.18,-0.16,-0.14,-0.12,-0.08,-0.06,-0.04,-0.02,0.02,0.04,0.06,0.08,0.12,0.14,0.16,0.18],"tickSize":-3,"tickWidth":1,"labels":false,"domain":false,"title":null,"zindex":1}}}},
{"mark":{"type":"point","opacity":0},
"encoding":{"x":{"datum":0,"type":"quantitative","axis":{"orient":"top","values":[-3.5,-3,-2.5,-1.5,-1,-0.5,0.5,1,1.5,2.5,3,3.5],"tickSize":-3,"tickWidth":1,"labels":false,"domain":false,"title":null,"zindex":1}},
"y":{"datum":0,"type":"quantitative","axis":{"orient":"right","values":[-0.18,-0.16,-0.14,-0.12,-0.08,-0.06,-0.04,-0.02,0.02,0.04,0.06,0.08,0.12,0.14,0.16,0.18],"tickSize":-3,"tickWidth":1,"labels":false,"domain":false,"title":null,"zindex":1}}}}
],
"resolve":{"axis":{"x":"independent","y":"independent"}}},

{"width":208,"height":184,"data":{"name":"d"},"transform":[{"filter":"datum.p==4"}],
"layer":[
{"transform":[{"fold":["U","L"],"as":["br","P"]}],"mark":{"type":"line","strokeWidth":2,"interpolate":"monotone"},
"encoding":{"x":{"field":"e","type":"quantitative","scale":{"domain":[-4,4],"nice":false,"zero":false},"axis":{"orient":"bottom","values":[-4,-2,0,2,4],"format":"d","tickSize":-5,"tickWidth":1.2,"labelPadding":9,"title":"E (MV/cm)","titlePadding":3,"domainWidth":1.3,"zindex":1}},
"y":{"field":"P","type":"quantitative","scale":{"domain":[-0.2,0.2],"nice":false,"zero":false},"axis":{"orient":"left","values":[-0.2,-0.1,0,0.1,0.2],"format":".1f","tickSize":-5,"tickWidth":1.2,"labelPadding":8,"title":"< Pz > (C/m²)","titlePadding":6,"domainWidth":1.3,"zindex":1}},
"detail":{"field":"br"},
"color":{"datum":"GNN Prediction","scale":{"domain":["GNN Prediction","Ground truth"],"range":["#ff0000","#5d6f94"]},"legend":{"orient":"top-left","offset":4,"title":null,"padding":3,"fillColor":"#ffffff","strokeColor":"#cccccc","cornerRadius":2,"labelFont":"Liberation Sans","labelFontSize":8,"labelColor":"black","symbolType":"stroke","symbolSize":441,"symbolStrokeWidth":2,"symbolOffset":3,"clipHeight":12,"rowPadding":2,"labelOffset":9,"encode":{"symbols":{"update":{"shape":{"signal":"datum.value === 'Ground truth' ? 'circle' : 'stroke'"},"size":{"signal":"datum.value === 'Ground truth' ? 14 : 441"},"fill":{"signal":"datum.value === 'Ground truth' ? '#5d6f94' : 'transparent'"},"stroke":{"signal":"datum.value === 'Ground truth' ? '#1b2036' : '#ff0000'"},"strokeWidth":{"signal":"datum.value === 'Ground truth' ? 0.7 : 2"}}}}}}}},
{"transform":[{"fold":["u","l"],"as":["br","P"]}],"mark":{"type":"line","strokeWidth":0.6,"color":"#8a8a8a"},
"encoding":{"x":{"field":"e","type":"quantitative","axis":{"orient":"top","values":[-4,-2,0,2,4],"tickSize":-5,"tickWidth":1.2,"labels":false,"title":null,"domainWidth":1.3,"zindex":1}},
"y":{"field":"P","type":"quantitative","axis":{"orient":"right","values":[-0.2,-0.1,0,0.1,0.2],"tickSize":-5,"tickWidth":1.2,"labels":false,"title":null,"domainWidth":1.3,"zindex":1}},"detail":{"field":"br"}}},
{"transform":[{"fold":["u","l"],"as":["br","P"]}],"mark":{"type":"point","filled":true,"fill":"#5d6f94","stroke":"#1b2036","strokeWidth":0.7,"size":14,"opacity":1},
"encoding":{"x":{"field":"e","type":"quantitative","axis":{"orient":"bottom","values":[-3.5,-3,-2.5,-1.5,-1,-0.5,0.5,1,1.5,2.5,3,3.5],"tickSize":-3,"tickWidth":1,"labels":false,"domain":false,"title":null,"zindex":1}},
"y":{"field":"P","type":"quantitative","axis":{"orient":"left","values":[-0.18,-0.16,-0.14,-0.12,-0.08,-0.06,-0.04,-0.02,0.02,0.04,0.06,0.08,0.12,0.14,0.16,0.18],"tickSize":-3,"tickWidth":1,"labels":false,"domain":false,"title":null,"zindex":1}}}},
{"mark":{"type":"point","opacity":0},
"encoding":{"x":{"datum":0,"type":"quantitative","axis":{"orient":"top","values":[-3.5,-3,-2.5,-1.5,-1,-0.5,0.5,1,1.5,2.5,3,3.5],"tickSize":-3,"tickWidth":1,"labels":false,"domain":false,"title":null,"zindex":1}},
"y":{"datum":0,"type":"quantitative","axis":{"orient":"right","values":[-0.18,-0.16,-0.14,-0.12,-0.08,-0.06,-0.04,-0.02,0.02,0.04,0.06,0.08,0.12,0.14,0.16,0.18],"tickSize":-3,"tickWidth":1,"labels":false,"domain":false,"title":null,"zindex":1}}}}
],
"resolve":{"axis":{"x":"independent","y":"independent"}}},

{"width":208,"height":184,"data":{"name":"d"},"transform":[{"filter":"datum.p==5"}],
"layer":[
{"transform":[{"fold":["U","L"],"as":["br","P"]}],"mark":{"type":"line","strokeWidth":2,"interpolate":"monotone"},
"encoding":{"x":{"field":"e","type":"quantitative","scale":{"domain":[-4,4],"nice":false,"zero":false},"axis":{"orient":"bottom","values":[-4,-2,0,2,4],"format":"d","tickSize":-5,"tickWidth":1.2,"labelPadding":9,"title":"E (MV/cm)","titlePadding":3,"domainWidth":1.3,"zindex":1}},
"y":{"field":"P","type":"quantitative","scale":{"domain":[-0.2,0.2],"nice":false,"zero":false},"axis":{"orient":"left","values":[-0.2,-0.1,0,0.1,0.2],"format":".1f","tickSize":-5,"tickWidth":1.2,"labelPadding":8,"title":"< Pz > (C/m²)","titlePadding":6,"domainWidth":1.3,"zindex":1}},
"detail":{"field":"br"},
"color":{"datum":"GNN Prediction","scale":{"domain":["GNN Prediction","Ground truth"],"range":["#ff0000","#5d6f94"]},"legend":{"orient":"top-left","offset":4,"title":null,"padding":3,"fillColor":"#ffffff","strokeColor":"#cccccc","cornerRadius":2,"labelFont":"Liberation Sans","labelFontSize":8,"labelColor":"black","symbolType":"stroke","symbolSize":441,"symbolStrokeWidth":2,"symbolOffset":3,"clipHeight":12,"rowPadding":2,"labelOffset":9,"encode":{"symbols":{"update":{"shape":{"signal":"datum.value === 'Ground truth' ? 'circle' : 'stroke'"},"size":{"signal":"datum.value === 'Ground truth' ? 14 : 441"},"fill":{"signal":"datum.value === 'Ground truth' ? '#5d6f94' : 'transparent'"},"stroke":{"signal":"datum.value === 'Ground truth' ? '#1b2036' : '#ff0000'"},"strokeWidth":{"signal":"datum.value === 'Ground truth' ? 0.7 : 2"}}}}}}}},
{"transform":[{"fold":["u","l"],"as":["br","P"]}],"mark":{"type":"line","strokeWidth":0.6,"color":"#8a8a8a"},
"encoding":{"x":{"field":"e","type":"quantitative","axis":{"orient":"top","values":[-4,-2,0,2,4],"tickSize":-5,"tickWidth":1.2,"labels":false,"title":null,"domainWidth":1.3,"zindex":1}},
"y":{"field":"P","type":"quantitative","axis":{"orient":"right","values":[-0.2,-0.1,0,0.1,0.2],"tickSize":-5,"tickWidth":1.2,"labels":false,"title":null,"domainWidth":1.3,"zindex":1}},"detail":{"field":"br"}}},
{"transform":[{"fold":["u","l"],"as":["br","P"]}],"mark":{"type":"point","filled":true,"fill":"#5d6f94","stroke":"#1b2036","strokeWidth":0.7,"size":14,"opacity":1},
"encoding":{"x":{"field":"e","type":"quantitative","axis":{"orient":"bottom","values":[-3.5,-3,-2.5,-1.5,-1,-0.5,0.5,1,1.5,2.5,3,3.5],"tickSize":-3,"tickWidth":1,"labels":false,"domain":false,"title":null,"zindex":1}},
"y":{"field":"P","type":"quantitative","axis":{"orient":"left","values":[-0.18,-0.16,-0.14,-0.12,-0.08,-0.06,-0.04,-0.02,0.02,0.04,0.06,0.08,0.12,0.14,0.16,0.18],"tickSize":-3,"tickWidth":1,"labels":false,"domain":false,"title":null,"zindex":1}}}},
{"mark":{"type":"point","opacity":0},
"encoding":{"x":{"datum":0,"type":"quantitative","axis":{"orient":"top","values":[-3.5,-3,-2.5,-1.5,-1,-0.5,0.5,1,1.5,2.5,3,3.5],"tickSize":-3,"tickWidth":1,"labels":false,"domain":false,"title":null,"zindex":1}},
"y":{"datum":0,"type":"quantitative","axis":{"orient":"right","values":[-0.18,-0.16,-0.14,-0.12,-0.08,-0.06,-0.04,-0.02,0.02,0.04,0.06,0.08,0.12,0.14,0.16,0.18],"tickSize":-3,"tickWidth":1,"labels":false,"domain":false,"title":null,"zindex":1}}}}
],
"resolve":{"axis":{"x":"independent","y":"independent"}}},

{"width":208,"height":184,"data":{"name":"d"},"transform":[{"filter":"datum.p==6"}],
"layer":[
{"transform":[{"fold":["U","L"],"as":["br","P"]}],"mark":{"type":"line","strokeWidth":2,"interpolate":"monotone"},
"encoding":{"x":{"field":"e","type":"quantitative","scale":{"domain":[-4,4],"nice":false,"zero":false},"axis":{"orient":"bottom","values":[-4,-2,0,2,4],"format":"d","tickSize":-5,"tickWidth":1.2,"labelPadding":9,"title":"E (MV/cm)","titlePadding":3,"domainWidth":1.3,"zindex":1}},
"y":{"field":"P","type":"quantitative","scale":{"domain":[-0.2,0.2],"nice":false,"zero":false},"axis":{"orient":"left","values":[-0.2,-0.1,0,0.1,0.2],"format":".1f","tickSize":-5,"tickWidth":1.2,"labelPadding":8,"title":"< Pz > (C/m²)","titlePadding":6,"domainWidth":1.3,"zindex":1}},
"detail":{"field":"br"},
"color":{"datum":"GNN Prediction","scale":{"domain":["GNN Prediction","Ground truth"],"range":["#ff0000","#5d6f94"]},"legend":{"orient":"top-left","offset":4,"title":null,"padding":3,"fillColor":"#ffffff","strokeColor":"#cccccc","cornerRadius":2,"labelFont":"Liberation Sans","labelFontSize":8,"labelColor":"black","symbolType":"stroke","symbolSize":441,"symbolStrokeWidth":2,"symbolOffset":3,"clipHeight":12,"rowPadding":2,"labelOffset":9,"encode":{"symbols":{"update":{"shape":{"signal":"datum.value === 'Ground truth' ? 'circle' : 'stroke'"},"size":{"signal":"datum.value === 'Ground truth' ? 14 : 441"},"fill":{"signal":"datum.value === 'Ground truth' ? '#5d6f94' : 'transparent'"},"stroke":{"signal":"datum.value === 'Ground truth' ? '#1b2036' : '#ff0000'"},"strokeWidth":{"signal":"datum.value === 'Ground truth' ? 0.7 : 2"}}}}}}}},
{"transform":[{"fold":["u","l"],"as":["br","P"]}],"mark":{"type":"line","strokeWidth":0.6,"color":"#8a8a8a"},
"encoding":{"x":{"field":"e","type":"quantitative","axis":{"orient":"top","values":[-4,-2,0,2,4],"tickSize":-5,"tickWidth":1.2,"labels":false,"title":null,"domainWidth":1.3,"zindex":1}},
"y":{"field":"P","type":"quantitative","axis":{"orient":"right","values":[-0.2,-0.1,0,0.1,0.2],"tickSize":-5,"tickWidth":1.2,"labels":false,"title":null,"domainWidth":1.3,"zindex":1}},"detail":{"field":"br"}}},
{"transform":[{"fold":["u","l"],"as":["br","P"]}],"mark":{"type":"point","filled":true,"fill":"#5d6f94","stroke":"#1b2036","strokeWidth":0.7,"size":14,"opacity":1},
"encoding":{"x":{"field":"e","type":"quantitative","axis":{"orient":"bottom","values":[-3.5,-3,-2.5,-1.5,-1,-0.5,0.5,1,1.5,2.5,3,3.5],"tickSize":-3,"tickWidth":1,"labels":false,"domain":false,"title":null,"zindex":1}},
"y":{"field":"P","type":"quantitative","axis":{"orient":"left","values":[-0.18,-0.16,-0.14,-0.12,-0.08,-0.06,-0.04,-0.02,0.02,0.04,0.06,0.08,0.12,0.14,0.16,0.18],"tickSize":-3,"tickWidth":1,"labels":false,"domain":false,"title":null,"zindex":1}}}},
{"mark":{"type":"point","opacity":0},
"encoding":{"x":{"datum":0,"type":"quantitative","axis":{"orient":"top","values":[-3.5,-3,-2.5,-1.5,-1,-0.5,0.5,1,1.5,2.5,3,3.5],"tickSize":-3,"tickWidth":1,"labels":false,"domain":false,"title":null,"zindex":1}},
"y":{"datum":0,"type":"quantitative","axis":{"orient":"right","values":[-0.18,-0.16,-0.14,-0.12,-0.08,-0.06,-0.04,-0.02,0.02,0.04,0.06,0.08,0.12,0.14,0.16,0.18],"tickSize":-3,"tickWidth":1,"labels":false,"domain":false,"title":null,"zindex":1}}}}
],
"resolve":{"axis":{"x":"independent","y":"independent"}}}
],
"resolve": {"scale": {"color": "independent"}, "legend": {"color": "independent"}},
"config": {
"view": {"stroke": null},
"axis": {"grid": false, "labelFont": "Liberation Sans", "titleFont": "Liberation Sans", "labelFontSize": 14, "titleFontSize": 16.5, "titleFontWeight": "normal", "labelColor": "black", "titleColor": "black", "domainColor": "black", "tickColor": "black", "labelFlush": false, "labelOverlap": false, "labelBound": false}
}
}
